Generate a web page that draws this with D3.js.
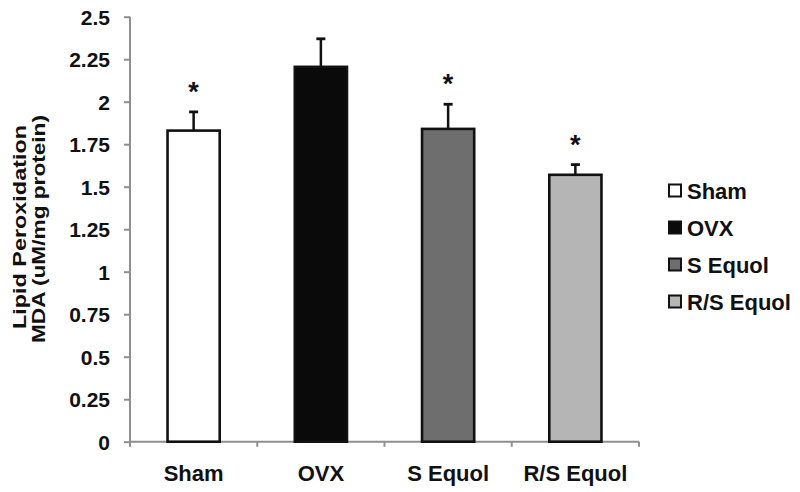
<!DOCTYPE html>
<html>
<head>
<meta charset="utf-8">
<script src="https://cdn.jsdelivr.net/npm/d3@7"></script>
<style>
  html, body { margin: 0; padding: 0; background: #fff; }
  svg { display: block; }
  text { font-family: "Liberation Sans", Arial, sans-serif; font-weight: bold; fill: #111; }
</style>
</head>
<body>
<svg id="chart" width="800" height="492"></svg>
<script>
// ---- data ----
const categories = ["Sham", "OVX", "S Equol", "R/S Equol"];
const means = [1.83, 2.205, 1.84, 1.57];
const errors = [0.11, 0.165, 0.145, 0.06];
const significant = [true, false, true, true];
const fills = ["#ffffff", "#0a0a0a", "#6e6e6e", "#b5b5b5"];
const yTicks = [0, 0.25, 0.5, 0.75, 1, 1.25, 1.5, 1.75, 2, 2.25, 2.5];
const yTitle = ["Lipid Peroxidation", "MDA (uM/mg protein)"];

const svg = d3.select("#chart");
const x0 = 130, x1 = 639, yBottom = 441.7, yTop = 16.7;

const x = d3.scaleBand().domain(categories).range([x0, x1])
  .paddingInner(0.59).paddingOuter(0.295);
const y = d3.scaleLinear().domain([0, 2.5]).range([yBottom, yTop]);

const axisColor = "#8f8f8f";

// Y axis
const yAxis = svg.append("g").attr("transform", `translate(${x0},0)`)
  .call(d3.axisLeft(y).tickValues(yTicks).tickSize(6).tickPadding(14)
    .tickFormat(d => d3.format("")(d)));
yAxis.select(".domain").attr("stroke", axisColor).attr("stroke-width", 2)
  .attr("d", `M0,${yTop}V${yBottom + 5}`);
yAxis.selectAll(".tick line").attr("stroke", axisColor).attr("stroke-width", 2);
yAxis.selectAll(".tick text").attr("font-size", 21).attr("fill", "#111")
  .attr("font-family", "Liberation Sans, Arial, sans-serif").attr("font-weight", "bold")
  .attr("dy", "0.36em");

// X axis (boundary ticks between categories)
const bounds = d3.range(categories.length + 1).map(i => x0 + i * x.step());
svg.append("line").attr("x1", x0).attr("x2", x1).attr("y1", yBottom).attr("y2", yBottom)
  .attr("stroke", axisColor).attr("stroke-width", 2);
svg.selectAll(".xtick").data(bounds).join("line")
  .attr("x1", d => d).attr("x2", d => d).attr("y1", yBottom).attr("y2", yBottom + 5)
  .attr("stroke", axisColor).attr("stroke-width", 2);
svg.selectAll(".xlab").data(categories).join("text")
  .attr("x", d => x(d) + x.bandwidth() / 2).attr("y", 481)
  .attr("text-anchor", "middle").attr("font-size", 22).text(d => d);

// Bars
const data = categories.map((c, i) => ({ c, m: means[i], e: errors[i], s: significant[i], f: fills[i] }));
svg.selectAll(".bar").data(data).join("rect")
  .attr("x", d => x(d.c)).attr("width", x.bandwidth())
  .attr("y", d => y(d.m)).attr("height", d => y(0) - y(d.m))
  .attr("fill", d => d.f).attr("stroke", "#111").attr("stroke-width", 2.6);

// Error bars
const eb = svg.selectAll(".eb").data(data).join("g");
eb.append("line")
  .attr("x1", d => x(d.c) + x.bandwidth() / 2).attr("x2", d => x(d.c) + x.bandwidth() / 2)
  .attr("y1", d => y(d.m)).attr("y2", d => y(d.m + d.e))
  .attr("stroke", "#111").attr("stroke-width", 2.5);
eb.append("line")
  .attr("x1", d => x(d.c) + x.bandwidth() / 2 - 4.5).attr("x2", d => x(d.c) + x.bandwidth() / 2 + 4.5)
  .attr("y1", d => y(d.m + d.e)).attr("y2", d => y(d.m + d.e))
  .attr("stroke", "#111").attr("stroke-width", 2.8);

// Significance asterisks
svg.selectAll(".star").data(data.filter(d => d.s)).join("text")
  .attr("x", d => x(d.c) + x.bandwidth() / 2).attr("y", d => y(d.m + d.e) - 11)
  .attr("text-anchor", "middle").attr("font-size", 27).attr("font-weight", "normal")
  .attr("fill", "#222").text("*");

// Y title
svg.append("text").attr("transform", "translate(26,227) rotate(-90)")
  .attr("text-anchor", "middle").attr("font-size", 18)
  .attr("textLength", 204).attr("lengthAdjust", "spacingAndGlyphs").text(yTitle[0]);
svg.append("text").attr("transform", "translate(45,229) rotate(-90)")
  .attr("text-anchor", "middle").attr("font-size", 18)
  .attr("textLength", 228).attr("lengthAdjust", "spacingAndGlyphs").text(yTitle[1]);

// Legend
const leg = svg.selectAll(".leg").data(data).join("g")
  .attr("transform", (d, i) => `translate(669,${191 + i * 37})`);
leg.append("rect").attr("x", 0).attr("y", -6.5).attr("width", 12).attr("height", 12)
  .attr("fill", d => d.f).attr("stroke", "#111").attr("stroke-width", 2);
leg.append("text").attr("x", 18).attr("y", 8).attr("font-size", 22).text(d => d.c);
</script>
</body>
</html>
